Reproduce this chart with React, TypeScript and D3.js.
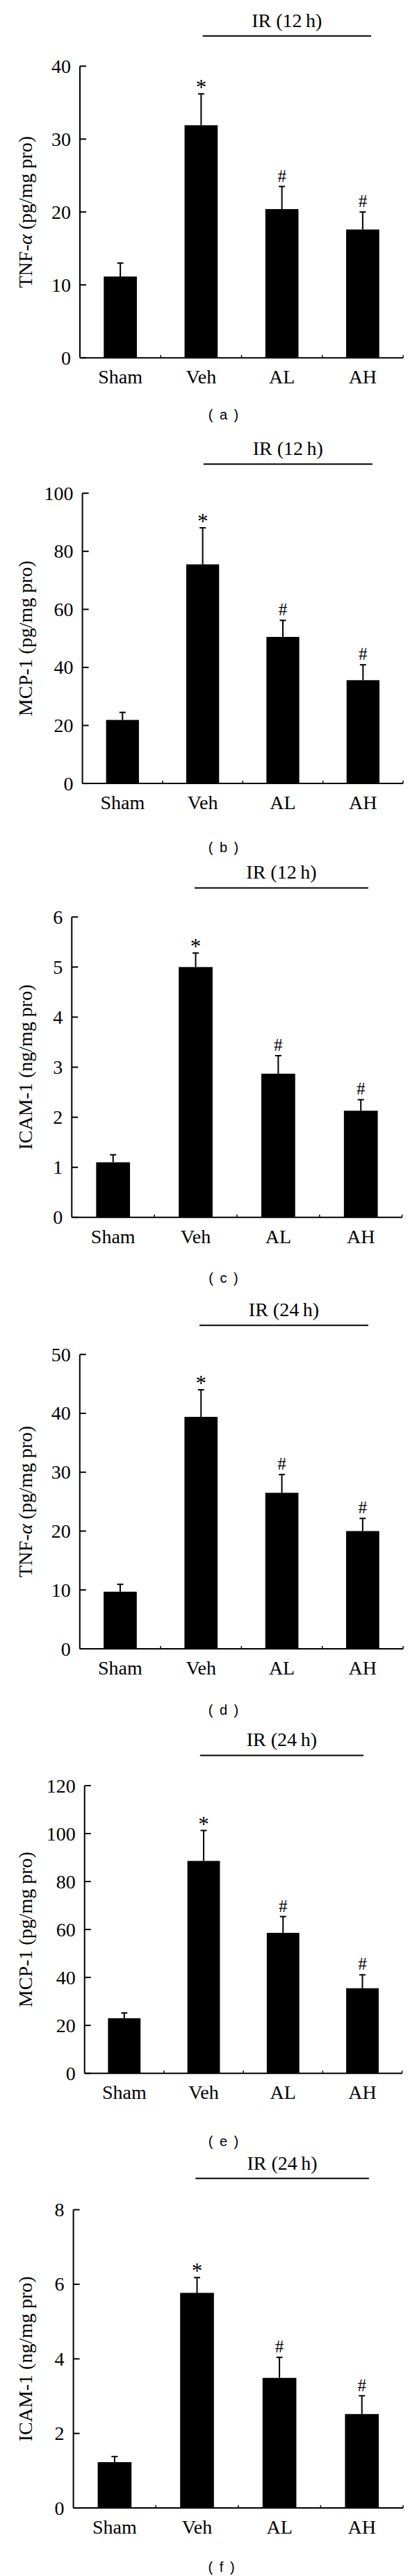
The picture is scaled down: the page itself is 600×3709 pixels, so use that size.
import React from 'react';
import * as d3 from 'd3';

const W = 600;
const H = 3709;

const CATEGORIES = ['Sham', 'Veh', 'AL', 'AH'];
const MARKS = ['', '*', '#', '#'];

// (a) TNF-α 12 h
const TNF_12 = [11.15, 31.9, 20.4, 17.6];
const TNF_12_ERR = [1.85, 4.3, 3.1, 2.4];
// (b) MCP-1 12 h
const MCP_12 = [21.9, 75.5, 50.5, 35.6];
const MCP_12_ERR = [2.6, 12.6, 5.7, 5.3];
// (c) ICAM-1 12 h
const ICAM_12 = [1.1, 5.0, 2.87, 2.13];
const ICAM_12_ERR = [0.15, 0.28, 0.36, 0.22];
// (d) TNF-α 24 h
const TNF_24 = [9.7, 39.4, 26.5, 20.0];
const TNF_24_ERR = [1.25, 4.6, 3.1, 2.15];
// (e) MCP-1 24 h
const MCP_24 = [23.0, 88.6, 58.6, 35.5];
const MCP_24_ERR = [2.2, 12.7, 6.8, 5.6];
// (f) ICAM-1 24 h
const ICAM_24 = [1.23, 5.77, 3.49, 2.52];
const ICAM_24_ERR = [0.15, 0.41, 0.55, 0.49];

const TICKS_TNF_12 = [0, 10, 20, 30, 40];
const TICKS_MCP_12 = [0, 20, 40, 60, 80, 100];
const TICKS_ICAM_12 = [0, 1, 2, 3, 4, 5, 6];
const TICKS_TNF_24 = [0, 10, 20, 30, 40, 50];
const TICKS_MCP_24 = [0, 20, 40, 60, 80, 100, 120];
const TICKS_ICAM_24 = [0, 2, 4, 6, 8];

const SERIF = '"Liberation Serif", "Times New Roman", serif';
const SANS = '"Liberation Sans", Arial, sans-serif';

// layout of each stacked panel (page pixels)
const PANELS = [
  { tag: 'a', name: 'TNF-', alpha: true, unit: 'pg/mg pro', hours: '12', values: TNF_12, errors: TNF_12_ERR, ticks: TICKS_TNF_12,
    left: 115, right: 580, yTop: 95.3, y0: 515.2, irY: 51.8, irX1: 291.6, irX2: 534, labelX: 322.5, labelY: 597 },
  { tag: 'b', name: 'MCP-1', alpha: false, unit: 'pg/mg pro', hours: '12', values: MCP_12, errors: MCP_12_ERR, ticks: TICKS_MCP_12,
    left: 118.6, right: 580, yTop: 710.2, y0: 1128.1, irY: 668.2, irX1: 292.8, irX2: 535.8, labelX: 322.5, labelY: 1220 },
  { tag: 'c', name: 'ICAM-1', alpha: false, unit: 'ng/mg pro', hours: '12', values: ICAM_12, errors: ICAM_12_ERR, ticks: TICKS_ICAM_12,
    left: 103.3, right: 578.6, yTop: 1320.3, y0: 1752.8, irY: 1278.4, irX1: 280, irX2: 530, labelX: 322.5, labelY: 1840 },
  { tag: 'd', name: 'TNF-', alpha: true, unit: 'pg/mg pro', hours: '24', values: TNF_24, errors: TNF_24_ERR, ticks: TICKS_TNF_24,
    left: 114.8, right: 580, yTop: 1950.2, y0: 2374, irY: 1908.2, irX1: 287, irX2: 530, labelX: 322.5, labelY: 2462 },
  { tag: 'e', name: 'MCP-1', alpha: false, unit: 'pg/mg pro', hours: '24', values: MCP_24, errors: MCP_24_ERR, ticks: TICKS_MCP_24,
    left: 121.7, right: 578.6, yTop: 2571, y0: 2985.3, irY: 2527.4, irX1: 287.8, irX2: 523, labelX: 322.5, labelY: 3083 },
  { tag: 'f', name: 'ICAM-1', alpha: false, unit: 'ng/mg pro', hours: '24', values: ICAM_24, errors: ICAM_24_ERR, ticks: TICKS_ICAM_24,
    left: 105.6, right: 580, yTop: 3181.6, y0: 3611.1, irY: 3136.6, irX1: 281.3, irX2: 530.8, labelX: 319.6, labelY: 3696 },
];

const Panel = ({ p }: { p: typeof PANELS[number] }) => {
  const x = d3.scaleBand<string>()
    .domain(CATEGORIES)
    .range([p.left, p.right])
    .paddingInner(0.59)
    .paddingOuter(0.295);
  const y = d3.scaleLinear()
    .domain([0, p.ticks[p.ticks.length - 1]])
    .range([p.y0, p.yTop]);
  const step = x.step();
  const bw = x.bandwidth();

  return (
    <g>
      {/* IR bracket */}
      <text x={(p.irX1 + p.irX2) / 2} y={p.irY - 13} textAnchor="middle" fontFamily={SERIF} fontSize={28}>
        {`IR (${p.hours}\u2009h)`}
      </text>
      <line x1={p.irX1} x2={p.irX2} y1={p.irY} y2={p.irY} stroke="#000" strokeWidth={2} />

      {/* bars */}
      {CATEGORIES.map((c, i) => {
        const cx = x(c)! + bw / 2;
        const top = y(p.values[i]);
        const errTop = y(p.values[i] + p.errors[i]);
        return (
          <g key={c}>
            <line x1={cx} x2={cx} y1={top} y2={errTop} stroke="#000" strokeWidth={2} />
            <line x1={cx - 4.5} x2={cx + 4.5} y1={errTop} y2={errTop} stroke="#000" strokeWidth={2} />
            <rect x={x(c)} y={top} width={bw} height={p.y0 - top} fill="#000" />
            {MARKS[i] === '*' && (
              <text x={cx} y={errTop + 1} textAnchor="middle" fontFamily={SERIF} fontSize={31}>*</text>
            )}
            {MARKS[i] === '#' && (
              <text x={cx} y={errTop - 7} textAnchor="middle" fontFamily={SERIF} fontSize={25}>#</text>
            )}
            <text x={cx} y={p.y0 + 37} textAnchor="middle" fontFamily={SERIF} fontSize={28}>{c}</text>
          </g>
        );
      })}

      {/* y axis */}
      <line x1={p.left} x2={p.left} y1={p.y0} y2={p.yTop} stroke="#000" strokeWidth={2} />
      {p.ticks.map(t => (
        <g key={t}>
          <line x1={p.left} x2={p.left + 9} y1={y(t)} y2={y(t)} stroke="#000" strokeWidth={2} />
          <text x={p.left - 13} y={y(t) + 9.5} textAnchor="end" fontFamily={SERIF} fontSize={28}>{t}</text>
        </g>
      ))}

      {/* x axis */}
      <line x1={p.left} x2={p.right} y1={p.y0} y2={p.y0} stroke="#000" strokeWidth={2} />
      {CATEGORIES.map((c, i) => (
        <line key={c} x1={p.left + step * (i + 1)} x2={p.left + step * (i + 1)} y1={p.y0} y2={p.y0 - 4} stroke="#000" strokeWidth={1.5} />
      ))}

      {/* y label */}
      <text transform={`translate(46,${(p.y0 + p.yTop) / 2}) rotate(-90)`} textAnchor="middle" fontFamily={SERIF} fontSize={28}>
        {p.name}
        {p.alpha && <tspan fontStyle="italic">α</tspan>}
        {` (${p.unit})`}
      </text>

      {/* panel tag */}
      <text x={p.labelX} y={p.labelY + 7} textAnchor="middle" fontFamily={SANS} fontSize={20} letterSpacing={2}>
        {`( ${p.tag} )`}
      </text>
    </g>
  );
};

export default function App() {
  return (
    <svg width={W} height={H} style={{ position: 'absolute', left: 0, top: 0, background: '#fff' }}>
      <rect width={W} height={H} fill="#fff" />
      {PANELS.map(p => <Panel key={p.tag} p={p} />)}
    </svg>
  );
}
